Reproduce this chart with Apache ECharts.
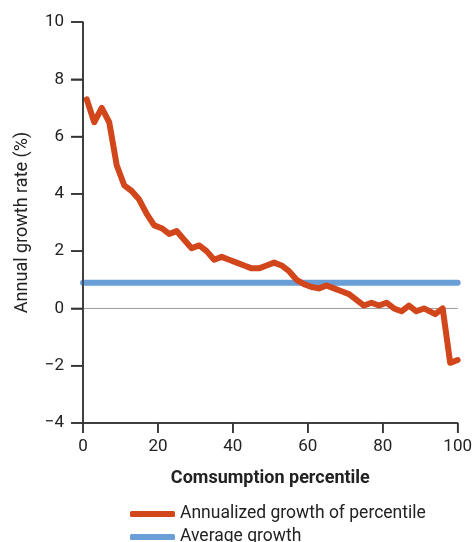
<!DOCTYPE html>
<html><head><meta charset="utf-8">
<script src="https://cdn.jsdelivr.net/npm/echarts@6/dist/echarts.min.js"></script>
<style>html,body{margin:0;padding:0;background:#fff}#c{width:475px;height:542px}</style>
</head><body><div id="c"></div>
<script>
const percentiles = [1,3,5,7,9,11,13,15,17,19,21,23,25,27,29,31,33,35,37,39,41,43,45,47,49,51,53,55,57,59,61,63,65,67,69,71,73,75,77,79,81,83,85,87,89,91,94,96,98,100];
const growth = [7.3,6.5,7.0,6.5,5.0,4.3,4.1,3.8,3.3,2.9,2.8,2.6,2.7,2.4,2.1,2.2,2.0,1.7,1.8,1.7,1.6,1.5,1.4,1.4,1.5,1.6,1.5,1.3,1.0,0.85,0.75,0.7,0.8,0.7,0.6,0.5,0.3,0.1,0.2,0.1,0.2,0.0,-0.1,0.1,-0.1,0.0,-0.2,0.0,-1.9,-1.8];
const averageGrowth = 0.9;
const xRange = [0, 100];
const yRange = [-4, 10];
const xTicks = [0, 20, 40, 60, 80, 100];
const yTicks = [-4, -2, 0, 2, 4, 6, 8, 10];
const seriesNames = ['Annualized growth of percentile', 'Average growth'];
const xTitle = 'Comsumption percentile';
const yTitle = 'Annual growth rate (%)';

const FONT = 'Roboto, sans-serif';
const RED = '#d2461c', BLUE = '#6a9ed6', AXIS = '#333';
const GRID = {left: 83, right: 12, top: 22, bottom: 119};
const W = 475, H = 542;
const chart = echarts.init(document.getElementById('c'));
const legendBase = {
  orient: 'horizontal', left: 125, itemGap: 5,
  itemWidth: 45, itemHeight: 6,
  textStyle: {fontFamily: FONT, fontSize: 17.5, color: '#222'}
};
chart.setOption({
  animation: false,
  textStyle: {fontFamily: FONT},
  grid: GRID,
  legend: [
    Object.assign({}, legendBase, {top: 500, data: [{name: seriesNames[0], icon: 'roundRect'}]}),
    Object.assign({}, legendBase, {top: 523, data: [{name: seriesNames[1], icon: 'roundRect'}]})
  ],
  xAxis: {
    type: 'value', min: xRange[0], max: xRange[1], interval: 20,
    name: xTitle, nameLocation: 'middle', nameGap: 46,
    nameTextStyle: {fontFamily: FONT, fontSize: 18, fontWeight: 'bold', color: '#222'},
    axisLine: {show: true, onZero: false, lineStyle: {color: AXIS, width: 1.5}},
    axisTick: {show: true, length: 10, lineStyle: {color: AXIS, width: 1.5}},
    axisLabel: {fontFamily: FONT, fontSize: 17, color: '#222', margin: 15},
    splitLine: {show: false}
  },
  yAxis: {
    type: 'value', min: yRange[0], max: yRange[1], interval: 2,
    name: yTitle, nameLocation: 'middle', nameGap: 52, nameRotate: 90,
    nameTextStyle: {fontFamily: FONT, fontSize: 18, color: '#222'},
    axisLine: {show: true, lineStyle: {color: AXIS, width: 1.5}},
    axisTick: {show: true, length: 12, lineStyle: {color: AXIS, width: 1.5}},
    axisLabel: {fontFamily: FONT, fontSize: 17, color: '#222', margin: 19,
      formatter: v => String(v).replace('-', '\u2212')},
    splitLine: {show: false}
  },
  series: [
    {
      name: 'zero', type: 'line', silent: true, symbol: 'none',
      data: xRange.map(x => [x, 0]),
      lineStyle: {color: '#999', width: 1}, z: 1
    },
    {
      name: seriesNames[1], type: 'line', symbol: 'none',
      data: xRange.map(x => [x, averageGrowth]),
      lineStyle: {color: BLUE, width: 6, cap: 'round'},
      itemStyle: {color: BLUE}, z: 2
    },
    {
      name: seriesNames[0], type: 'line', symbol: 'none',
      data: percentiles.map((p, i) => [p, growth[i]]),
      lineStyle: {color: RED, width: 6, cap: 'round', join: 'round'},
      itemStyle: {color: RED}, z: 3
    }
  ]
});

// Axis lines and outward ticks, positioned through the chart's own scales
function px(x, y) {
  try {
    const p = chart.convertToPixel({xAxisIndex: 0, yAxisIndex: 0}, [x, y]);
    if (p && isFinite(p[0]) && isFinite(p[1])) return p;
  } catch (e) {}
  const gw = W - GRID.left - GRID.right, gh = H - GRID.top - GRID.bottom;
  return [GRID.left + (x - xRange[0]) / (xRange[1] - xRange[0]) * gw,
          GRID.top + (yRange[1] - y) / (yRange[1] - yRange[0]) * gh];
}
function seg(a, b) {
  return {type: 'line', silent: true, z: 100,
    shape: {x1: a[0], y1: a[1], x2: b[0], y2: b[1]},
    style: {stroke: AXIS, lineWidth: 1.5}};
}
const origin = px(xRange[0], yRange[0]);
const els = [];
els.push(seg(origin, px(xRange[1], yRange[0])));
els.push(seg(origin, px(xRange[0], yRange[1])));
xTicks.forEach(t => { const p = px(t, yRange[0]); els.push(seg(p, [p[0], p[1] + 10])); });
yTicks.forEach(t => { const p = px(xRange[0], t); els.push(seg(p, [p[0] - 12, p[1]])); });
chart.setOption({graphic: {elements: els}});
</script></body></html>
